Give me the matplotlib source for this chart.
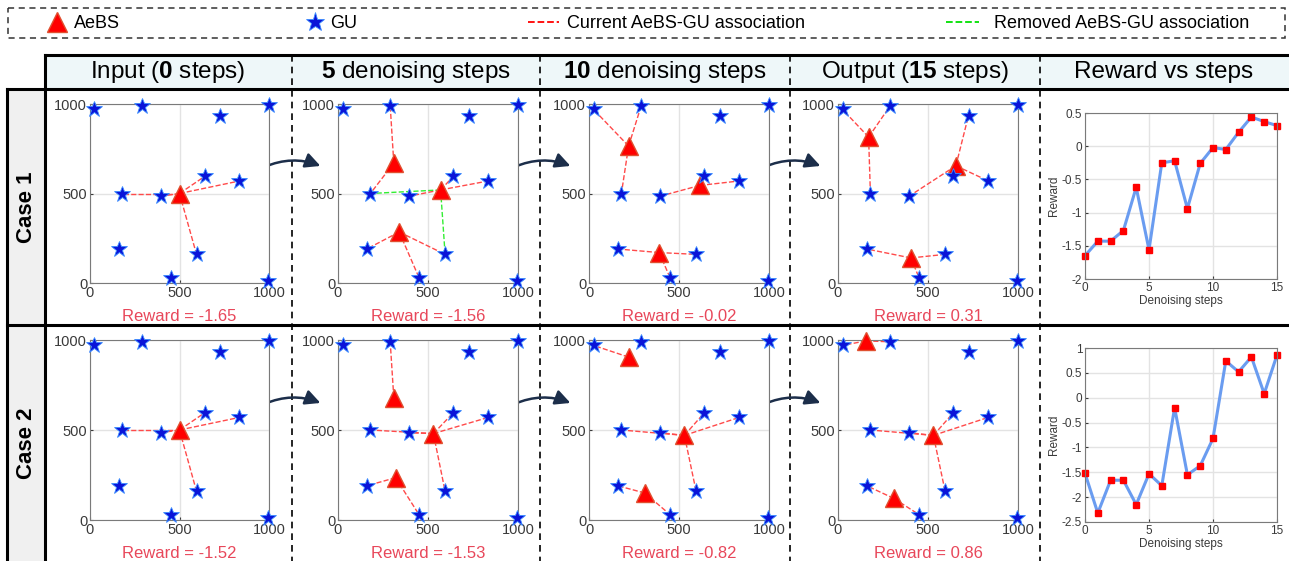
import numpy as np
import matplotlib.pyplot as plt
from matplotlib.patches import Rectangle, FancyArrowPatch

plt.rcParams['font.family'] = ['Liberation Sans', 'DejaVu Sans']
plt.rcParams['mathtext.fontset'] = 'custom'
plt.rcParams['mathtext.rm'] = 'Liberation Sans'
plt.rcParams['mathtext.bf'] = 'Liberation Sans:bold'

# GU positions (same in every panel)
gu_x = [25, 290, 1000, 725, 640, 835, 180, 395, 160, 595, 450, 995]
gu_y = [970, 990, 995, 935, 595, 570, 500, 485, 190, 160, 30, 10]

col_titles = [r"Input ($\mathbf{0}$ steps)", r"$\mathbf{5}$ denoising steps",
              r"$\mathbf{10}$ denoising steps", r"Output ($\mathbf{15}$ steps)",
              "Reward vs steps"]
case_labels = ["Case 1", "Case 2"]

# AeBS positions per panel (0, 5, 10, 15 steps)
case1_bs_x = [[500], [310, 570, 340], [220, 615, 390], [170, 655, 405]]
case1_bs_y = [[500], [670, 520, 285], [765, 545, 170], [815, 655, 140]]
case1_links = [[[6, 7, 4, 5, 9]],
               [[1, 6], [7, 4, 5], [8, 10, 9]],
               [[0, 1, 6], [7, 4, 5], [8, 9, 10]],
               [[0, 1, 6], [3, 4, 5, 7], [8, 9, 10]]]
case1_removed = [[], [[], [6, 9], []], [], []]

case2_bs_x = [[500], [310, 530, 320], [220, 530, 310], [155, 530, 310]]
case2_bs_y = [[500], [680, 480, 235], [905, 470, 150], [995, 470, 120]]
case2_links = [[[6, 7, 4, 5, 9]],
               [[1], [6, 7, 4, 5, 9], [8, 10]],
               [[0], [6, 7, 4, 5, 9], [8, 10]],
               [[0, 1], [6, 7, 4, 5, 9], [8, 10]]]
case2_removed = [[], [], [], []]

steps = np.arange(16)
case1_reward = [-1.65, -1.43, -1.43, -1.27, -0.62, -1.56, -0.25, -0.22,
                -0.94, -0.26, -0.02, -0.05, 0.21, 0.44, 0.37, 0.31]
case2_reward = [-1.52, -2.32, -1.66, -1.66, -2.15, -1.53, -1.77, -0.20,
                -1.55, -1.37, -0.82, 0.74, 0.52, 0.82, 0.08, 0.86]
panel_steps = [0, 5, 10, 15]

W, H = 1289, 561


def rect(x0, y0, x1, y1):
    return [x0 / W, 1 - y1 / H, (x1 - x0) / W, (y1 - y0) / H]


fig = plt.figure(figsize=(W / 100, H / 100), dpi=100)

# background canvas in pixel coordinates
bg = fig.add_axes([0, 0, 1, 1])
bg.set_xlim(0, W)
bg.set_ylim(H, 0)
bg.axis('off')

# legend box
bg.add_patch(Rectangle((8, 8), 1277, 30, fill=False, ls=(0, (4, 3)), lw=1.1, ec='#333333'))
bg.plot(57, 22, marker='^', ms=14, color='#ff0000', mec='#e05030')
bg.text(74, 23, "AeBS", fontsize=13, va='center')
bg.plot(315, 22, marker='*', ms=14, color='#0a14d8', mec='#3a8cff', mew=0.6)
bg.text(330, 23, "GU", fontsize=13, va='center')
bg.plot([528, 559], [22, 22], ls='--', color='#ff0000', lw=1.3)
bg.text(567, 23, "Current AeBS-GU association", fontsize=13, va='center')
bg.plot([946, 979], [22, 22], ls='--', color='#00e000', lw=1.3)
bg.text(994, 23, "Removed AeBS-GU association", fontsize=13, va='center')

# table frame
bg.add_patch(Rectangle((45, 55), W - 45, 34, fc='#eef7f9', ec='none'))
bg.add_patch(Rectangle((7, 89), 38, H - 89, fc='#f0f0f0', ec='none'))
bg.plot([45, W], [55, 55], color='black', lw=2.2)
bg.plot([7, W], [89, 89], color='black', lw=2.2)
bg.plot([7, W], [325, 325], color='black', lw=2.2)
bg.plot([45, 45], [55, H], color='black', lw=2.2)
bg.plot([7, 7], [89, H], color='black', lw=2.2)
for xd in [292, 540, 790, 1040]:
    bg.plot([xd, xd], [55, H], color='black', lw=1.2, ls=(0, (4, 3)))

col_cx = [168, 416, 665, 915, 1164]
for cx, t in zip(col_cx, col_titles):
    bg.text(cx, 72, t, fontsize=17.5, ha='center', va='center')
for cy, t in zip([207, 443], case_labels):
    bg.text(26, cy, t, fontsize=16, fontweight='bold', rotation=90, ha='center', va='center')

panel_x = [(90, 269), (338, 518), (589, 769), (838, 1018)]
row_y = [(104, 283), (340, 520)]
reward_y = [(113, 279), (348, 522)]
text_y = [316, 553]

cases = [(case1_bs_x, case1_bs_y, case1_links, case1_removed, case1_reward),
         (case2_bs_x, case2_bs_y, case2_links, case2_removed, case2_reward)]

for r, (bsx, bsy, links, removed, reward) in enumerate(cases):
    y0, y1 = row_y[r]
    for p, (x0, x1) in enumerate(panel_x):
        ax = fig.add_axes(rect(x0, y0, x1, y1))
        ax.set_xlim(0, 1000)
        ax.set_ylim(0, 1000)
        ax.set_xticks([0, 500, 1000])
        ax.set_yticks([0, 500, 1000])
        ax.grid(True, color='#e3e3e3', lw=1)
        ax.set_axisbelow(True)
        ax.tick_params(labelsize=10.5, length=2.5, direction='in', colors='#3a3a3a', pad=2)
        for s in ax.spines.values():
            s.set_color('#7a7a7a')
        for b in range(len(bsx[p])):
            for g in links[p][b]:
                ax.plot([bsx[p][b], gu_x[g]], [bsy[p][b], gu_y[g]], ls='--',
                        color='#ff4a4a', lw=1, zorder=2)
            if removed[p]:
                for g in removed[p][b]:
                    ax.plot([bsx[p][b], gu_x[g]], [bsy[p][b], gu_y[g]], ls='--',
                            color='#33ee33', lw=1, zorder=2)
        ax.plot(bsx[p], bsy[p], ls='none', marker='^', ms=13, color='#ff0000',
                mec='#e05030', zorder=3, clip_on=False)
        ax.plot(gu_x, gu_y, ls='none', marker='*', ms=12, color='#0a14d8',
                mec='#3a8cff', mew=0.6, zorder=4, clip_on=False)
        bg.text((x0 + x1) / 2, text_y[r], "Reward = %.2f" % reward[panel_steps[p]],
                fontsize=12, color='#e8475a', ha='center', va='center')

    # reward vs steps
    ry0, ry1 = reward_y[r]
    axr = fig.add_axes(rect(1085, ry0, 1277, ry1))
    axr.plot(steps, reward, color='#6a9cf0', lw=2.2, marker='s', ms=4.5,
             mfc='#ff0000', mec='#ff0000', clip_on=False)
    axr.set_xlim(0, 15)
    axr.set_xticks([0, 5, 10, 15])
    if r == 0:
        axr.set_ylim(-2, 0.5)
        axr.set_yticks(np.arange(-2, 0.51, 0.5))
        axr.set_yticklabels(['-2', '-1.5', '-1', '-0.5', '0', '0.5'])
    else:
        axr.set_ylim(-2.5, 1)
        axr.set_yticks(np.arange(-2.5, 1.01, 0.5))
        axr.set_yticklabels(['-2.5', '-2', '-1.5', '-1', '-0.5', '0', '0.5', '1'])
    axr.grid(True, color='#e3e3e3', lw=1)
    axr.set_axisbelow(True)
    axr.tick_params(labelsize=8.5, length=2, direction='in', colors='#3a3a3a', pad=2)
    for s in axr.spines.values():
        s.set_color('#7a7a7a')
    axr.set_xlabel("Denoising steps", fontsize=8.5, color='#3a3a3a', labelpad=1)
    axr.set_ylabel("Reward", fontsize=8.5, color='#3a3a3a', labelpad=1)

    # arrows between panels
    ay = [168, 405][r]
    for k in range(3):
        xs = 262 + k * 250
        bg.add_patch(FancyArrowPatch((xs, ay), (xs + 61, ay - 1),
                                     connectionstyle='arc3,rad=-0.22',
                                     arrowstyle='-|>,head_length=9,head_width=4.5',
                                     color='#1c2e4a', lw=1.8, zorder=5))

fig.savefig('out.png', dpi=100)
